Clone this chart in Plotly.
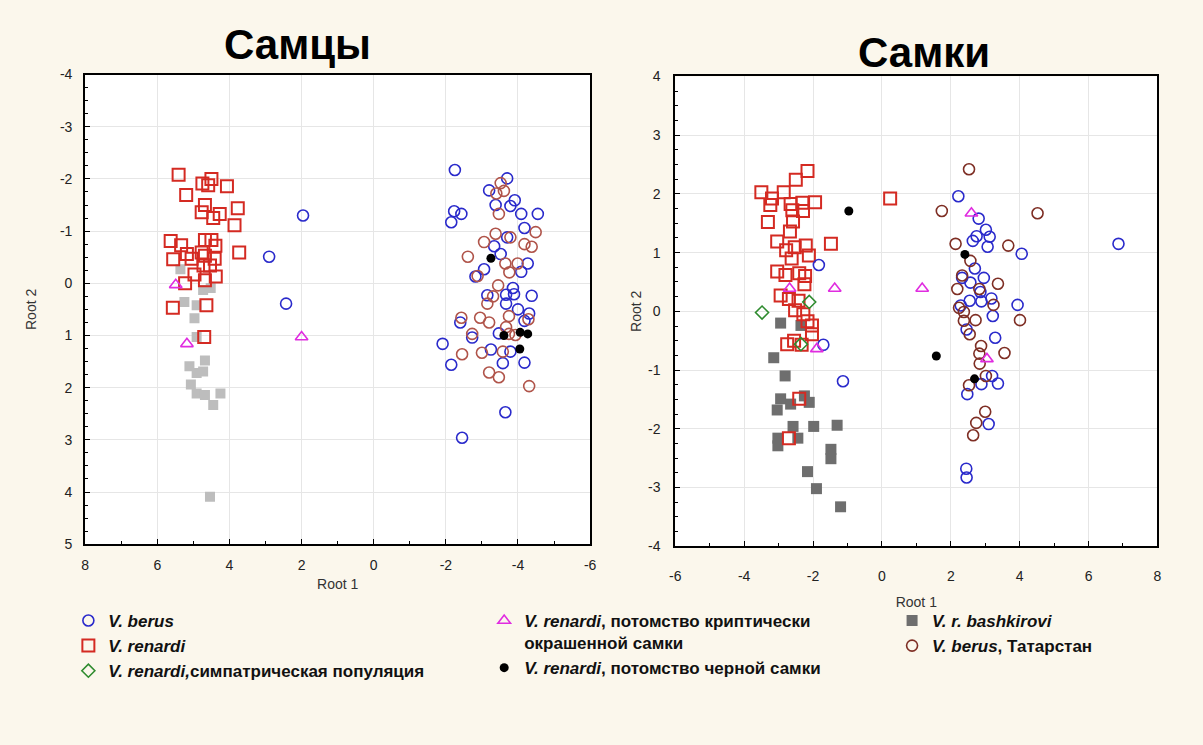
import plotly.graph_objects as go

# ---------------- Males (Самцы) ----------------
m_berus_x = [1.96, 2.9, 2.43, -2.25, -3.7, -3.2, -3.91, -3.38, -3.79, -4.09, -4.55, -2.23, -2.43, -2.15, -4.18,
             -3.34, -3.7, -3.52, -3.06, -2.82, -4.27, -4.09, -3.86, -3.15, -3.67, -3.89, -4.38, -3.67, -4.0,
             -4.31, -4.18, -2.4, -3.47, -2.73, -1.91, -3.25, -3.79, -2.15, -3.58, -4.18, -3.65, -2.45]
m_berus_y = [-1.3, -0.51, 0.39, -2.17, -2.01, -1.78, -1.59, -1.5, -1.48, -1.33, -1.33, -1.38, -1.33, -1.17, -1.06,
             -0.71, -0.88, -0.56, -0.27, -0.13, -0.38, -0.22, 0.09, 0.23, 0.22, 0.21, 0.24, 0.39, 0.5,
             0.58, 0.72, 0.75, 0.96, 1.04, 1.16, 1.27, 1.31, 1.56, 1.53, 1.52, 2.47, 2.96]

m_renardi_x = [5.41, 4.75, 4.5, 4.59, 4.07, 5.2, 4.68, 4.77, 4.27, 4.45, 3.77, 3.86, 5.63, 5.34, 4.68, 4.5, 4.39,
               3.73, 5.56, 5.18, 5.05, 4.77, 4.68, 4.41, 4.72, 4.54, 4.97, 5.23, 4.68, 4.38, 5.57, 4.64, 4.7]
m_renardi_y = [-2.08, -1.91, -2.0, -1.88, -1.86, -1.69, -1.5, -1.36, -1.33, -1.25, -1.44, -1.11, -0.81, -0.73,
               -0.83, -0.83, -0.72, -0.59, -0.46, -0.56, -0.47, -0.59, -0.53, -0.47, -0.34, -0.34, -0.17, 0.0,
               -0.06, -0.13, 0.47, 0.42, 1.03]

m_bash_x = [5.36, 5.25, 4.91, 4.97, 4.73, 4.52, 4.91, 4.68, 5.11, 4.91, 4.73, 5.07, 4.91, 4.68, 4.25, 4.45, 4.54]
m_bash_y = [-0.27, 0.36, 0.42, 0.67, 0.13, 0.09, 1.03, 1.48, 1.59, 1.72, 1.69, 1.94, 2.11, 2.14, 2.11, 2.33, 4.09]

m_crypt_x = [5.49, 5.18, 2.0]
m_crypt_y = [0.03, 1.16, 1.03]

m_black_x = [-3.25, -3.61, -4.06, -4.27, -4.05]
m_black_y = [-0.48, 1.0, 0.94, 0.97, 1.26]

m_tat_x = [-3.52, -3.4, -3.61, -3.47, -4.49, -3.38, -3.79, -3.06, -4.18, -4.38, -2.61, -3.65, -3.99, -3.76,
           -2.88, -3.45, -3.31, -3.15, -2.43, -2.95, -3.2, -3.75, -4.29, -3.67, -3.75, -2.73, -3.93, -2.45,
           -3.0, -3.58, -3.2, -3.47, -4.31]
m_tat_y = [-1.92, -1.72, -1.77, -1.33, -0.98, -0.95, -0.88, -0.79, -0.75, -0.7, -0.51, -0.38, -0.38, -0.21,
           -0.14, 0.04, 0.25, 0.39, 0.66, 0.66, 0.75, 0.63, 0.69, 0.84, 0.97, 0.97, 0.99, 1.36,
           1.33, 1.31, 1.71, 1.8, 1.97]

# ---------------- Females (Самки) ----------------
f_berus_x = [-1.83, -1.7, -1.13, 6.87, 2.22, 2.81, 3.02, 3.13, 2.64, 2.75, 3.07, 4.06, 2.7, 2.96, 2.33, 2.57,
             2.86, 3.18, 2.89, 2.55, 2.29, 3.22, 3.94, 2.46, 3.29, 3.2, 3.37, 2.89, 2.48, 3.1, 2.45, 2.46]
f_berus_y = [0.79, -0.57, -1.19, 1.15, 1.96, 1.58, 1.39, 1.27, 1.2, 1.28, 1.1, 0.98, 0.73, 0.57, 0.57, 0.49,
             0.33, 0.22, 0.17, 0.18, 0.1, -0.08, 0.11, -0.31, -0.45, -1.1, -1.23, -1.24, -1.41, -1.92, -2.68, -2.83]

f_renardi_x = [-2.16, -2.5, -3.5, -3.19, -2.85, -2.65, -2.31, -1.94, -3.24, -2.6, -2.29, -3.31, -2.58, -2.67,
               -3.04, -2.53, -2.21, -1.48, -2.78, -2.12, -2.62, -3.04, -2.8, -2.4, -2.23, -2.25, -2.94, -2.7,
               -2.42, -2.52, -2.28, -2.16, -2.03, -2.03, -2.75, -2.55, -2.33, -2.4, -2.7, 0.24]
f_renardi_y = [2.39, 2.24, 2.03, 1.92, 2.03, 1.83, 1.85, 1.86, 1.81, 1.72, 1.71, 1.52, 1.53, 1.36,
               1.19, 1.09, 1.12, 1.15, 1.04, 0.95, 0.9, 0.68, 0.62, 0.65, 0.6, 0.46, 0.27, 0.21,
               0.18, 0.02, -0.05, -0.17, -0.24, -0.39, -0.56, -0.5, -0.57, -1.49, -2.16, 1.92]

f_symp_x = [-3.48, -2.11, -2.35]
f_symp_y = [-0.02, 0.16, -0.56]

f_bash_x = [-2.94, -2.35, -3.14, -2.81, -2.94, -2.65, -3.04, -2.25, -2.11, -2.58, -1.98, -1.3, -3.02, -3.02,
            -2.44, -1.48, -1.48, -2.16, -1.9, -1.2]
f_bash_y = [-0.2, -0.24, -0.79, -1.1, -1.49, -1.58, -1.68, -1.44, -1.55, -1.96, -1.96, -1.94, -2.16, -2.29,
            -2.16, -2.35, -2.51, -2.73, -3.02, -3.33]

f_crypt_x = [-2.68, -1.37, -1.89, 1.17, 2.6, 3.05]
f_crypt_y = [0.39, 0.39, -0.64, 0.39, 1.67, -0.81]

f_black_x = [-0.96, 1.58, 2.41, 2.69]
f_black_y = [1.71, -0.76, 0.97, -1.15]

f_tat_x = [2.53, 1.74, 4.52, 2.14, 3.67, 2.57, 2.33, 3.37, 2.19, 2.83, 3.24, 2.24, 2.38, 2.38, 2.72, 4.01,
           2.55, 2.88, 2.83, 3.56, 2.84, 3.02, 2.53, 3.0, 2.74, 2.65]
f_tat_y = [2.42, 1.71, 1.67, 1.15, 1.12, 0.86, 0.61, 0.47, 0.38, 0.38, 0.11, 0.06, -0.01, -0.16, -0.15, -0.15,
           -0.39, -0.59, -0.72, -0.71, -0.89, -1.1, -1.26, -1.71, -1.9, -2.11]

# ---------------- Ticks & labels ----------------
m_xticks = [8, 6, 4, 2, 0, -2, -4, -6]
m_xtext = ["8", "6", "4", "2", "0", "-2", "-4", "-6"]
m_yticks = [-4, -3, -2, -1, 0, 1, 2, 3, 4, 5]
m_ytext = ["-4", "-3", "-2", "-1", "0", "1", "2", "3", "4", "5"]
f_xticks = [-6, -4, -2, 0, 2, 4, 6, 8]
f_xtext = ["-6", "-4", "-2", "0", "2", "4", "6", "8"]
f_yticks = [-4, -3, -2, -1, 0, 1, 2, 3, 4]
f_ytext = ["-4", "-3", "-2", "-1", "0", "1", "2", "3", "4"]

title_m = "Самцы"
title_f = "Самки"
axis_x_title = "Root 1"
axis_y_title = "Root 2"
lbl_berus = "<b><i>V. berus</i></b>"
lbl_renardi = "<b><i>V. renardi</i></b>"
lbl_symp = "<b><i>V. renardi,</i>симпатрическая популяция</b>"
lbl_crypt = "<b><i>V. renardi</i>, потомство криптически<br>окрашенной самки</b>"
lbl_black = "<b><i>V. renardi</i>, потомство черной самки</b>"
lbl_bash = "<b><i>V. r. bashkirovi</i></b>"
lbl_tat = "<b><i>V. berus</i>, Татарстан</b>"

W, H = 1203, 745
BG = "#FBF7EC"
FONT = "Liberation Sans, Arial, sans-serif"

fig = go.Figure()


def add(x, y, name, symbol, color, size, lw, xa, ya, legend, show, rank=1):
    fig.add_trace(go.Scatter(
        x=x, y=y, mode="markers", name=name, legendgroup=name, showlegend=show,
        legend=legend, legendrank=rank,
        marker=dict(symbol=symbol, size=size, color=color,
                    line=dict(color=color, width=lw)),
        xaxis=xa, yaxis=ya, hoverinfo="skip"))


# Males panel
add(m_bash_x, m_bash_y, lbl_bash, "square", "#BDBDBD", 10, 0, "x", "y", "legend3", False)
add(m_renardi_x, m_renardi_y, lbl_renardi, "square-open", "#D42A22", 12, 2, "x", "y", "legend", False)
add(m_berus_x, m_berus_y, lbl_berus, "circle-open", "#2A2ACB", 11, 1.6, "x", "y", "legend", False)
add(m_tat_x, m_tat_y, lbl_tat, "circle-open", "#B0544A", 11, 1.6, "x", "y", "legend3", False)
add(m_crypt_x, m_crypt_y, lbl_crypt, "triangle-up-open", "#E02CE0", 11, 1.6, "x", "y", "legend2", False)
add(m_black_x, m_black_y, lbl_black, "circle", "#000000", 9, 0, "x", "y", "legend2", False)

# Females panel
add(f_bash_x, f_bash_y, lbl_bash, "square", "#6E6E6E", 11, 0, "x2", "y2", "legend3", True, rank=1)
add(f_renardi_x, f_renardi_y, lbl_renardi, "square-open", "#D42A22", 12, 2, "x2", "y2", "legend", True, rank=2)
add(f_berus_x, f_berus_y, lbl_berus, "circle-open", "#2A2ACB", 11, 1.6, "x2", "y2", "legend", True, rank=1)
add(f_tat_x, f_tat_y, lbl_tat, "circle-open", "#7E2E24", 11, 1.6, "x2", "y2", "legend3", True, rank=2)
add(f_symp_x, f_symp_y, lbl_symp, "diamond-open", "#2E8B2E", 10, 1.6, "x2", "y2", "legend", True, rank=3)
add(f_crypt_x, f_crypt_y, lbl_crypt, "triangle-up-open", "#E02CE0", 11, 1.6, "x2", "y2", "legend2", True, rank=1)
add(f_black_x, f_black_y, lbl_black, "circle", "#000000", 9, 0, "x2", "y2", "legend2", True, rank=2)

axfont = dict(family=FONT, size=14, color="#222222")
common = dict(showline=True, linecolor="#000000", linewidth=2, mirror=True,
              ticks="inside", ticklen=5, tickcolor="#000000", tickwidth=1,
              showgrid=True, gridcolor="#E6E6E6", gridwidth=1, zeroline=False,
              tickfont=axfont,
              title_font=dict(family=FONT, size=14, color="#333333"))

px2 = lambda p: p / W
py2 = lambda p: 1 - p / H

legfont = dict(family=FONT, size=17, color="#111111")

fig.update_layout(
    width=W, height=H, margin=dict(l=0, r=0, t=0, b=0),
    paper_bgcolor=BG, plot_bgcolor="#FFFFFF",
    xaxis=dict(domain=[px2(80), px2(590)], range=[8, -6], tickvals=m_xticks, ticktext=m_xtext,
               anchor="y", ticklabelstandoff=7,
               title=dict(text=axis_x_title, standoff=7),
               minor=dict(ticks="inside", ticklen=3, dtick=1, tickcolor="#000000", showgrid=False),
               **common),
    yaxis=dict(domain=[py2(548), py2(68)], range=[5, -4], tickvals=m_yticks, ticktext=m_ytext,
               anchor="x", ticklabelstandoff=8,
               title=dict(text=axis_y_title, standoff=20),
               minor=dict(ticks="inside", ticklen=3, dtick=0.25, tickcolor="#000000", showgrid=False),
               **common),
    xaxis2=dict(domain=[px2(676), px2(1163)], range=[-6, 8], tickvals=f_xticks, ticktext=f_xtext,
                anchor="y2", ticklabelstandoff=16,
                title=dict(text=axis_x_title, standoff=14),
                minor=dict(ticks="inside", ticklen=3, dtick=1, tickcolor="#000000", showgrid=False),
                **common),
    yaxis2=dict(domain=[py2(550), py2(70)], range=[-4, 4], tickvals=f_yticks, ticktext=f_ytext,
                anchor="x2", ticklabelstandoff=10,
                title=dict(text=axis_y_title, standoff=3),
                minor=dict(ticks="inside", ticklen=3, dtick=0.25, tickcolor="#000000", showgrid=False),
                **common),
    legend=dict(x=px2(63), y=py2(608), xanchor="left", yanchor="top", bgcolor="rgba(0,0,0,0)",
                font=legfont, tracegroupgap=0, valign="top"),
    legend2=dict(x=px2(483), y=py2(608), xanchor="left", yanchor="top", bgcolor="rgba(0,0,0,0)",
                 font=legfont, tracegroupgap=0, valign="top"),
    legend3=dict(x=px2(895), y=py2(608), xanchor="left", yanchor="top", bgcolor="rgba(0,0,0,0)",
                 font=legfont, tracegroupgap=0, valign="top"),
    annotations=[
        dict(text=f"<b>{title_m}</b>", x=px2(294), y=py2(37), xref="paper", yref="paper",
             showarrow=False, xanchor="center", yanchor="middle",
             font=dict(family=FONT, size=42, color="#000")),
        dict(text=f"<b>{title_f}</b>", x=px2(927), y=py2(45), xref="paper", yref="paper",
             showarrow=False, xanchor="center", yanchor="middle",
             font=dict(family=FONT, size=42, color="#000")),
    ],
)

fig.write_html("out.html", config={"displayModeBar": False},
               post_script="document.body.style.margin='0';document.body.style.overflow='hidden';")
